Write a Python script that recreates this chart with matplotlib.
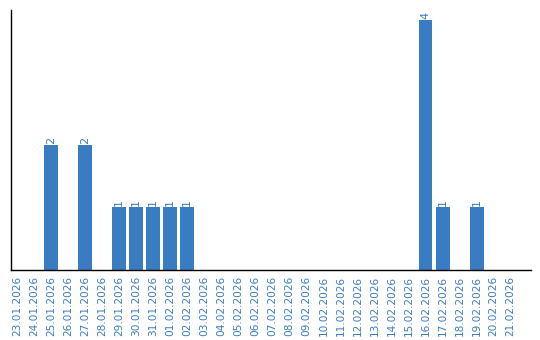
import matplotlib
matplotlib.use('Agg')
import matplotlib.pyplot as plt
import numpy as np

# Daily counts
dates = ['23.01.2026', '24.01.2026', '25.01.2026', '26.01.2026', '27.01.2026',
         '28.01.2026', '29.01.2026', '30.01.2026', '31.01.2026', '01.02.2026',
         '02.02.2026', '03.02.2026', '04.02.2026', '05.02.2026', '06.02.2026',
         '07.02.2026', '08.02.2026', '09.02.2026', '10.02.2026', '11.02.2026',
         '12.02.2026', '13.02.2026', '14.02.2026', '15.02.2026', '16.02.2026',
         '17.02.2026', '18.02.2026', '19.02.2026', '20.02.2026', '21.02.2026']
counts = [0, 0, 2, 0, 2, 0, 1, 1, 1, 1, 1, 0, 0, 0, 0,
          0, 0, 0, 0, 0, 0, 0, 0, 0, 4, 1, 0, 1, 0, 0]

bar_color = '#3a7cc1'
text_color = '#3a7cc1'

fig = plt.figure(figsize=(5.4, 3.4), dpi=100)
ax = fig.add_axes([0.0204, 0.206, 0.963, 0.765])

x = np.arange(len(dates))
ax.bar(x, counts, width=0.82, color=bar_color)

# value labels only for non-zero bars
for xi, c in zip(x, counts):
    if c > 0:
        ax.text(xi, c + 0.02, str(c), rotation=90, ha='center', va='bottom',
                fontsize=8, color=text_color)

ax.set_xlim(-0.35, 30.2)
ax.set_ylim(0, 4.16)
ax.set_xticks(x)
ax.set_xticklabels(dates, rotation=90, fontsize=7.6, color=text_color)
ax.tick_params(axis='x', length=0, pad=4)
ax.set_yticks([])
ax.spines['top'].set_visible(False)
ax.spines['right'].set_visible(False)
ax.spines['left'].set_linewidth(1.0)
ax.spines['bottom'].set_linewidth(1.0)

plt.savefig('out.png', dpi=100)
plt.close()
